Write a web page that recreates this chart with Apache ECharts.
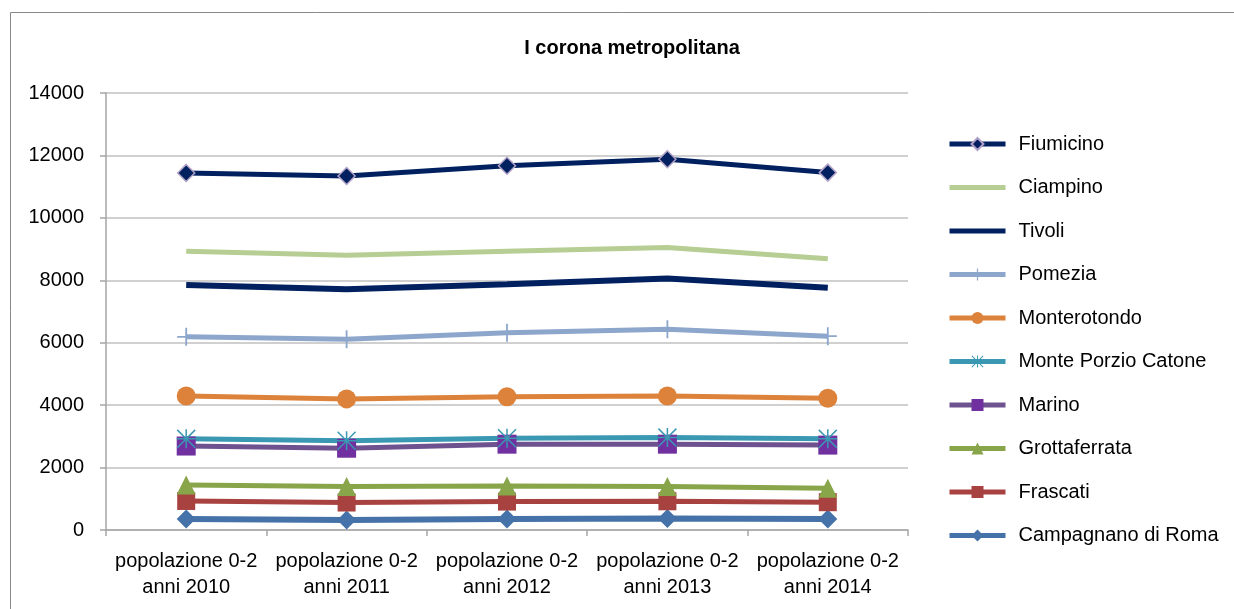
<!DOCTYPE html>
<html><head><meta charset="utf-8">
<script src="https://cdn.jsdelivr.net/npm/echarts@6/dist/echarts.min.js"></script>
<style>html,body{margin:0;padding:0;background:#fff}#c{width:1234px;height:609px}</style>
</head><body><div id="c"></div>
<script>
const categories = ['popolazione 0-2\nanni 2010','popolazione 0-2\nanni 2011','popolazione 0-2\nanni 2012','popolazione 0-2\nanni 2013','popolazione 0-2\nanni 2014'];
const yTicks = [0,2000,4000,6000,8000,10000,12000,14000];
const fiumicino = [11440, 11340, 11670, 11880, 11450];
const ciampino = [8930, 8800, 8930, 9050, 8690];
const tivoli = [7850, 7710, 7870, 8060, 7760];
const pomezia = [6190, 6110, 6320, 6430, 6210];
const monterotondo = [4290, 4200, 4270, 4290, 4220];
const montePorzio = [2920, 2860, 2940, 2960, 2920];
const marino = [2690, 2620, 2750, 2750, 2720];
const grottaferrata = [1440, 1390, 1410, 1390, 1340];
const frascati = [930, 880, 910, 920, 890];
const campagnano = [350, 320, 350, 370, 350];

const PLUS = 'path://M9,0 H11 V9 H20 V11 H11 V20 H9 V11 H0 V9 H9 Z';
const STAR = 'path://M9.2,0 H10.8 V20 H9.2 Z M0,9.2 H20 V10.8 H0 Z M1.1,0 L20,18.9 L18.9,20 L0,1.1 Z M18.9,0 L20,1.1 L1.1,20 L0,18.9 Z';
const FONT = 'Liberation Sans';

function s(name, data, color, lineColor, symbol, size, width) {
  return {
    name, type: 'line', data,
    symbol: symbol || 'none', symbolSize: size || 0, showSymbol: !!symbol,
    lineStyle: {color: lineColor || color, width: width || 5},
    itemStyle: {color},
    animation: false, z: 2
  };
}

const series = [
  s('Campagnano di Roma', campagnano, '#4572A8', '#4572A8', 'diamond', 19, 6),
  s('Frascati', frascati, '#A84240', '#A84240', 'rect', 18, 5),
  s('Grottaferrata', grottaferrata, '#88A54A', '#88A54A', 'triangle', 19, 5),
  s('Marino', marino, '#7030A0', '#6E5290', 'rect', 19, 5),
  s('Monte Porzio Catone', montePorzio, '#3A98B2', '#3A98B2', STAR, 19, 5),
  s('Monterotondo', monterotondo, '#DD823A', '#DD823A', 'circle', 19, 5),
  s('Pomezia', pomezia, '#8CA6CC', '#8CA6CC', PLUS, 18, 5),
  s('Tivoli', tivoli, '#002060', '#002060', null, 0, 6),
  s('Ciampino', ciampino, '#B6CD93', '#B6CD93', null, 0, 5),
  s('Fiumicino', fiumicino, '#002060', '#002060', 'diamond', 17, 5)
];
series[9].itemStyle = {color:'#002060', borderColor:'#B3A2C7', borderWidth:1.5};

const noMarker = ['Tivoli', 'Ciampino'];
const legendData = series.map(x => x.name).reverse().map(n =>
  noMarker.includes(n) ? {name: n, itemStyle: {opacity: 0}} : {name: n});

const chart = echarts.init(document.getElementById('c'), null, {renderer:'canvas'});
chart.setOption({
  backgroundColor: '#fff',
  textStyle: {fontFamily: FONT},
  title: {text: 'I corona metropolitana', left: 627, top: 33, textAlign: 'center',
    textStyle: {fontFamily: FONT, fontWeight: 'bold', fontSize: 20, color: '#000'}},
  graphic: [{type:'rect', shape:{x:10.5,y:12.5,width:1260,height:640}, style:{fill:'none', stroke:'#888', lineWidth:1}, silent:true}],
  grid: {left: 106, right: 326, top: 93, bottom: 79},
  legend: {
    orient: 'vertical', left: 947, top: 134, padding: 0,
    data: legendData,
    itemWidth: 56, itemHeight: 15, itemGap: 23.5,
    lineStyle: {width: 5},
    textStyle: {fontFamily: FONT, fontSize: 20, lineHeight: 20, color: '#000', padding:[0,0,0,8]}
  },
  xAxis: {
    type: 'category', data: categories, boundaryGap: true,
    axisLine: {lineStyle: {color: '#A6A6A6', width: 1.5}},
    axisTick: {show: true, length: 6, lineStyle: {color: '#A6A6A6', width: 1.5}},
    axisLabel: {color: '#000', fontSize: 20, fontFamily: FONT, lineHeight: 26, margin: 18, interval: 0}
  },
  yAxis: {
    type: 'value', min: 0, max: 14000, interval: 2000,
    axisLine: {show: true, lineStyle: {color: '#A6A6A6', width: 1.5}},
    axisTick: {show: true, length: 6, lineStyle: {color: '#A6A6A6', width: 1.5}},
    splitLine: {lineStyle: {color: '#C0C0C0', width: 1.5}},
    axisLabel: {color: '#000', fontSize: 20, fontFamily: FONT, margin: 22,
      formatter: v => yTicks.includes(v) ? String(v) : ''}
  },
  series
});
</script></body></html>
